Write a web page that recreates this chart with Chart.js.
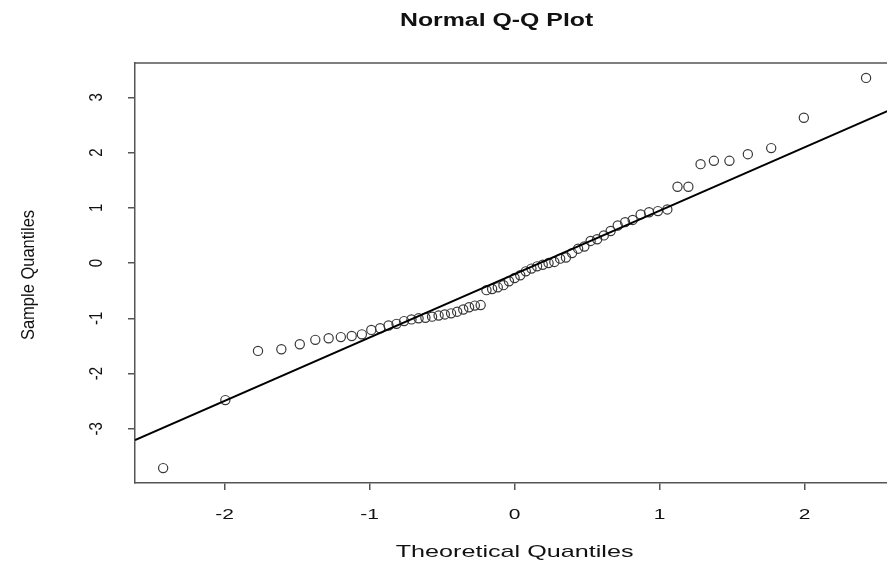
<!DOCTYPE html>
<html><head><meta charset="utf-8">
<script src="https://cdn.jsdelivr.net/npm/chart.js@4.4.1/dist/chart.umd.min.js"></script>
<style>
html,body{margin:0;padding:0;overflow:hidden;background:#fff;width:887px;height:565px}
#wrap{position:absolute;left:0;top:0;width:900px;height:565px}
</style>
</head><body>
<div id="wrap"><canvas id="c" width="900" height="565"></canvas></div>
<script>
// ---- data ----
const theoretical = [
 -2.423,-1.994,-1.769,-1.608,-1.481,-1.374,-1.282,-1.198,-1.123,-1.053,
 -0.988,-0.927,-0.869,-0.814,-0.762,-0.711,-0.662,-0.615,-0.569,-0.524,
 -0.481,-0.438,-0.396,-0.354,-0.314,-0.274,-0.234,-0.194,-0.155,-0.116,
 -0.077,-0.039, 0.000, 0.039, 0.077, 0.116, 0.155, 0.194, 0.234, 0.274,
  0.314, 0.354, 0.396, 0.438, 0.481, 0.524, 0.569, 0.615, 0.662, 0.711,
  0.762, 0.814, 0.869, 0.927, 0.988, 1.053, 1.123, 1.198, 1.282, 1.374,
  1.481, 1.608, 1.769, 1.994, 2.423
];
const sample = [
 -3.71,-2.48,-1.59,-1.56,-1.47,-1.39,-1.36,-1.34,-1.32,-1.29,
 -1.21,-1.18,-1.13,-1.10,-1.05,-1.02,-1.00,-0.99,-0.97,-0.95,
 -0.93,-0.91,-0.88,-0.84,-0.80,-0.77,-0.76,-0.49,-0.47,-0.44,
 -0.40,-0.33,-0.27,-0.22,-0.15,-0.10,-0.06,-0.03, 0.00, 0.02,
  0.08, 0.10, 0.18, 0.26, 0.30, 0.40, 0.43, 0.50, 0.58, 0.68,
  0.74, 0.78, 0.88, 0.92, 0.94, 0.97, 1.38, 1.38, 1.79, 1.85,
  1.85, 1.97, 2.08, 2.63, 3.35
];
const refLineX = [-2.617, 2.617];
const refLineY = [-3.204, 2.804];
const xTickValues = [-2, -1, 0, 1, 2];
const yTickValues = [-3, -2, -1, 0, 1, 2, 3];
const mainTitle = 'Normal Q-Q Plot';
const xAxisTitle = 'Theoretical Quantiles';
const yAxisTitle = 'Sample Quantiles';

// ---- styling ----
const FONT = '"Liberation Sans", Arial, Helvetica, sans-serif';
const AXIS_COL = '#555';

function drawText(ctx, text, x, y, size, bold, rot, sx) {
  ctx.save();
  ctx.translate(x, y);
  ctx.scale(sx, 1);
  if (rot) ctx.rotate(rot);
  ctx.font = (bold ? 'bold ' : '') + size + 'px ' + FONT;
  ctx.fillStyle = '#111';
  ctx.textAlign = 'center';
  ctx.textBaseline = 'middle';
  ctx.fillText(text, 0, 0);
  ctx.restore();
}

const textPlugin = {
  id: 'rtext',
  afterDraw(chart) {
    const ctx = chart.ctx, a = chart.chartArea;
    const xs = chart.scales.x, ys = chart.scales.y;
    ctx.save();
    ctx.strokeStyle = AXIS_COL; ctx.lineWidth = 1.5;
    ctx.beginPath();
    ctx.moveTo(a.left, a.top); ctx.lineTo(a.right, a.top); ctx.lineTo(a.right, a.bottom);
    ctx.stroke();
    ctx.restore();
    const cx = (a.left + a.right) / 2, cy = (a.top + a.bottom) / 2;
    drawText(ctx, mainTitle, cx - 18, 21, 17.5, true, 0, 1.42);
    xs.ticks.forEach(t => drawText(ctx, String(t.value), xs.getPixelForValue(t.value), 515, 15, false, 0, 1.4));
    ys.ticks.forEach(t => drawText(ctx, String(t.value), 97, ys.getPixelForValue(t.value), 15, false, -Math.PI / 2, 1.2));
    drawText(ctx, xAxisTitle, cx, 552, 17, false, 0, 1.48);
    drawText(ctx, yAxisTitle, 29, cy + 2, 16.5, false, -Math.PI / 2, 1.15);
  }
};

new Chart(document.getElementById('c'), {
  type: 'scatter',
  data: {
    datasets: [
      {
        label: 'line',
        data: refLineX.map((x, i) => ({x, y: refLineY[i]})),
        showLine: true, pointRadius: 0, borderColor: '#000', borderWidth: 2,
        order: 0
      },
      {
        label: 'sample',
        data: theoretical.map((x, i) => ({x, y: sample[i]})),
        showLine: false, pointRadius: 4.6, pointBorderWidth: 1.2,
        pointBorderColor: '#383838', pointBackgroundColor: 'rgba(0,0,0,0)',
        order: 1
      }
    ]
  },
  options: {
    responsive: false, animation: false,
    layout: { padding: { left: 0, top: 63, right: 2, bottom: 0 } },
    plugins: { legend: { display: false }, tooltip: { enabled: false }, title: { display: false } },
    scales: {
      x: {
        type: 'linear', min: -2.617, max: 2.617,
        afterBuildTicks: s => { s.ticks = xTickValues.map(v => ({ value: v })); },
        afterFit: s => { s.height = 82; },
        ticks: { display: false },
        grid: { drawOnChartArea: false, drawTicks: true, tickLength: 7, color: AXIS_COL, lineWidth: 1.5 },
        border: { display: true, color: AXIS_COL, width: 1.5 }
      },
      y: {
        type: 'linear', min: -3.98, max: 3.62,
        afterBuildTicks: s => { s.ticks = yTickValues.map(v => ({ value: v })); },
        afterFit: s => { s.width = 135; },
        ticks: { display: false },
        grid: { drawOnChartArea: false, drawTicks: true, tickLength: 7, color: AXIS_COL, lineWidth: 1.5 },
        border: { display: true, color: AXIS_COL, width: 1.5 }
      }
    }
  },
  plugins: [textPlugin]
});
</script>
</body></html>
